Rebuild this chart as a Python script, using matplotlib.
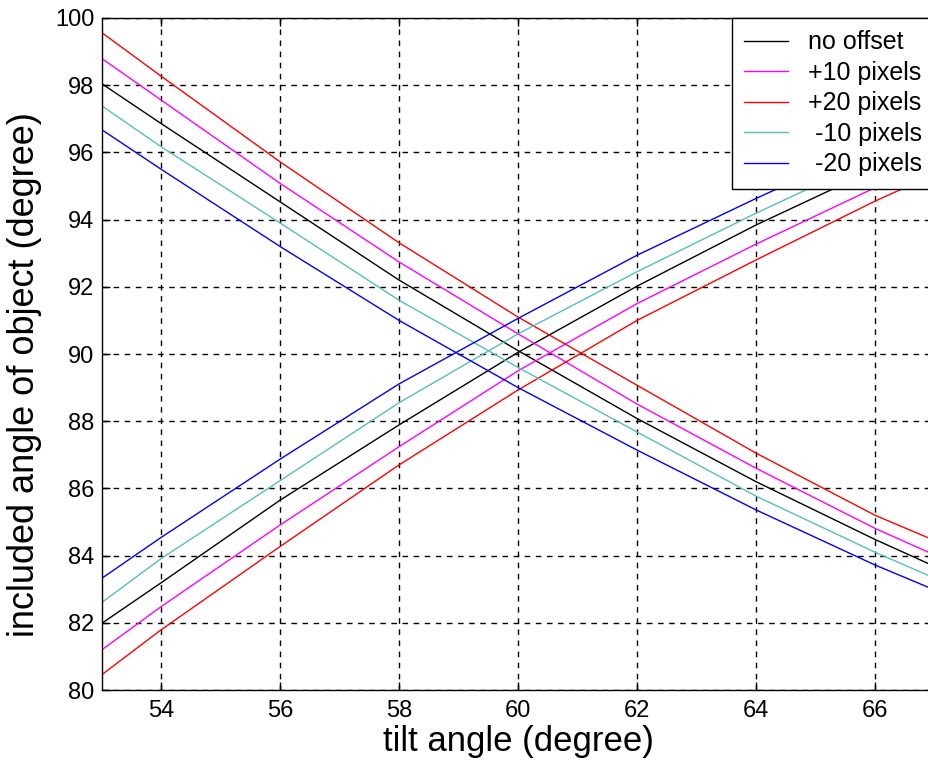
import numpy as np
import matplotlib
matplotlib.use('Agg')
import matplotlib.pyplot as plt

plt.rcParams['font.family'] = ['Liberation Sans', 'DejaVu Sans']

# sample positions along the tilt axis (degree)
tilt = [53, 54, 56, 58, 60, 62, 64, 66, 67]

# curves that fall with tilt angle
down_no_offset = [98.05, 96.86, 94.53, 92.20, 90.10, 88.08, 86.20, 84.48, 83.68]
down_plus10 = [98.80, 97.56, 95.08, 92.74, 90.60, 88.51, 86.60, 84.81, 84.02]
down_plus20 = [99.57, 98.27, 95.72, 93.31, 91.10, 89.07, 87.05, 85.20, 84.45]
down_minus10 = [97.39, 96.17, 93.90, 91.60, 89.60, 87.68, 85.77, 84.10, 83.33]
down_minus20 = [96.68, 95.50, 93.20, 91.00, 89.00, 87.14, 85.36, 83.72, 82.98]

# curves that rise with tilt angle
up_no_offset = [81.98, 83.19, 85.65, 87.89, 90.05, 92.02, 93.84, 95.50, 96.28]
up_plus10 = [81.19, 82.48, 84.91, 87.24, 89.50, 91.50, 93.27, 94.95, 95.75]
up_plus20 = [80.45, 81.79, 84.27, 86.70, 88.93, 91.00, 92.80, 94.55, 95.35]
up_minus10 = [82.60, 83.91, 86.23, 88.55, 90.60, 92.45, 94.19, 95.85, 96.62]
up_minus20 = [83.32, 84.54, 86.87, 89.11, 91.06, 92.94, 94.63, 96.25, 97.02]

labels = ['no offset', '+10 pixels', '+20 pixels', ' -10 pixels', ' -20 pixels']
colors = ['black', '#ff00ff', '#ff0000', '#55bfbf', '#0000ff']
down = [down_no_offset, down_plus10, down_plus20, down_minus10, down_minus20]
up = [up_no_offset, up_plus10, up_plus20, up_minus10, up_minus20]

fig = plt.figure(figsize=(9.29, 7.69), dpi=100)
ax = fig.add_axes([0.1093, 0.1027, 0.8967, 0.8739])

for d, u, c, lab in zip(down, up, colors, labels):
    ax.plot(tilt, d, color=c, linewidth=1.0, label=lab)
    ax.plot(tilt, u, color=c, linewidth=1.0)

ax.set_xlim(53, 67)
ax.set_ylim(80, 100)
ax.set_xticks(np.arange(54, 67, 2))
ax.set_yticks(np.arange(80, 101, 2))
ax.grid(True, color='black', linestyle=(0, (4, 4)), linewidth=1.0)
ax.tick_params(direction='in', top=True, right=True, labelsize=17, length=6, width=1)
ax.tick_params(axis='x', pad=7)
ax.tick_params(axis='y', pad=5)
for s in ax.spines.values():
    s.set_linewidth(1.0)
    s.set_color('black')

ax.set_xlabel('tilt angle (degree)', fontsize=25, labelpad=2)
ax.set_ylabel('included angle of object (degree)', fontsize=26)
ax.yaxis.set_label_coords(-0.071, 0.47)

leg = ax.legend(loc='upper right', fontsize=18, frameon=True, fancybox=False,
                borderaxespad=0, borderpad=0.5, handlelength=1.76,
                handletextpad=0.8, labelspacing=0.26,
                framealpha=1, edgecolor='black')
leg.get_frame().set_linewidth(1.0)

plt.savefig('out.png', dpi=100)
